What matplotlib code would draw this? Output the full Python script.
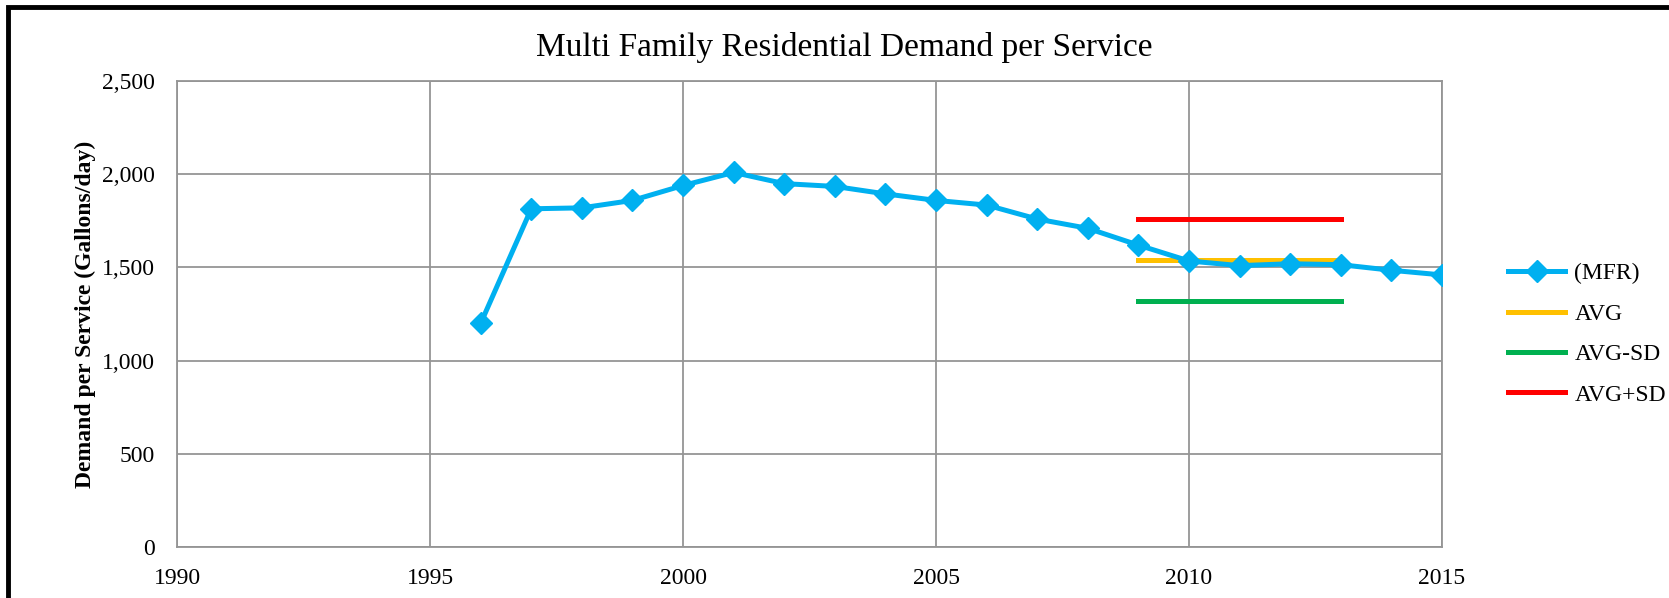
import matplotlib.pyplot as plt
from matplotlib.patches import Rectangle
from matplotlib.ticker import FuncFormatter

# data
years = [1996, 1997, 1998, 1999, 2000, 2001, 2002, 2003, 2004, 2005,
         2006, 2007, 2008, 2009, 2010, 2011, 2012, 2013, 2014, 2015]
mfr = [1200, 1815, 1820, 1860, 1940, 2010, 1950, 1935, 1895, 1860,
       1835, 1760, 1710, 1620, 1535, 1510, 1520, 1515, 1485, 1460]
avg_years = [2009, 2013]
avg = 1540
avg_minus_sd = 1320
avg_plus_sd = 1760

plt.rcParams['font.family'] = ['Liberation Serif', 'DejaVu Serif']

fig = plt.figure(figsize=(16.69, 5.98), dpi=100)
ax = fig.add_axes([0.1061, 0.0853, 0.7579, 0.779])

ax.plot(years, mfr, color='#00B0F0', lw=3.6, marker='D', markersize=11,
        label='(MFR)', zorder=4)
ax.plot(avg_years, [avg, avg], color='#FFC000', lw=3.6, label='AVG', zorder=3)
ax.plot(avg_years, [avg_minus_sd, avg_minus_sd], color='#00B050', lw=3.6,
        label='AVG-SD', zorder=3)
ax.plot(avg_years, [avg_plus_sd, avg_plus_sd], color='#FF0000', lw=3.6,
        label='AVG+SD', zorder=3)

ax.set_xlim(1990, 2015)
ax.set_ylim(0, 2500)
ax.set_xticks(range(1990, 2016, 5))
ax.set_yticks(range(0, 2501, 500))
ax.yaxis.set_major_formatter(FuncFormatter(lambda v, p: f'{int(v):,}'))
ax.grid(True, color='#959595', lw=1.3)
ax.set_axisbelow(True)
for s in ax.spines.values():
    s.set_color('#959595')
    s.set_linewidth(1.3)
ax.tick_params(length=0, labelsize=17)
ax.tick_params(axis='y', pad=16)
ax.tick_params(axis='x', pad=15)

ax.set_ylabel('Demand per Service (Gallons/day)', fontsize=17,
              fontweight='bold')
ax.yaxis.set_label_coords(-0.064, 0.5)

fig.text(0.506, 0.92, 'Multi Family Residential Demand per Service',
         fontsize=24, ha='center', va='center')

ax.legend(loc='upper left', bbox_to_anchor=(1.045, 0.63), frameon=False,
          fontsize=17, handlelength=2.4, handletextpad=0.4,
          labelspacing=0.8, borderaxespad=0)

# outer chart frame (bottom and right fall outside the picture)
fig.patches.append(Rectangle((8 / 1669, -0.05), 1.1, 1 - 7 / 598 + 0.05,
                             transform=fig.transFigure, fill=False,
                             edgecolor='black', lw=3.5))

fig.savefig('out.png', dpi=100)
